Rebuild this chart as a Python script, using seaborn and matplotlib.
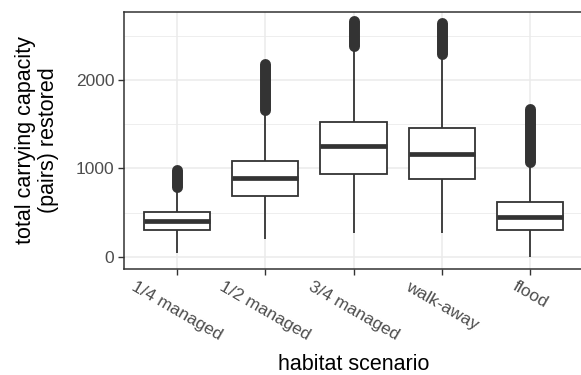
import numpy as np
import pandas as pd
import matplotlib
matplotlib.use("Agg")
import matplotlib.pyplot as plt
import seaborn as sns

# ---- data ----
scenarios = ["1/4 managed", "1/2 managed", "3/4 managed", "walk-away", "flood"]
whisker_low = [45, 200, 275, 275, 0]
q1 = [305, 686, 938, 877, 305]
median = [407, 889, 1254, 1167, 452]
q3 = [505, 1088, 1525, 1461, 621]
whisker_high = [770, 1640, 2370, 2285, 1050]
outlier_low = [790, 1655, 2384, 2299, 1068]
outlier_high = [983, 2186, 2661, 2644, 1672]
y_ticks = [0, 1000, 2000]

# build long-form table from the five-number summaries
rows = []
for s, lo, a, m, b, hi in zip(scenarios, whisker_low, q1, median, q3, whisker_high):
    for v in (lo, a, a, m, b, b, hi):
        rows.append({"scenario": s, "value": v})
df = pd.DataFrame(rows)

sns.set_theme(style="white")
plt.rcParams["font.family"] = ["Liberation Sans", "DejaVu Sans"]

DARK = "#333333"
GRID = "#EBEBEB"

fig = plt.figure(figsize=(5.81, 3.75), dpi=100)
ax = fig.add_axes([124 / 581, 1 - 269 / 375, (583 - 124) / 581, (269 - 12) / 375])
ax.set_facecolor("white")

# grid (theme_bw style)
for y in [500, 1500, 2500]:
    ax.axhline(y, color=GRID, lw=0.6, zorder=0)
for y in y_ticks:
    ax.axhline(y, color=GRID, lw=1.1, zorder=0)
for i in range(len(scenarios)):
    ax.axvline(i, color=GRID, lw=1.1, zorder=0)

sns.boxplot(data=df, x="scenario", y="value", order=scenarios, ax=ax,
            color="white", linecolor=DARK, linewidth=1.3, width=0.75,
            whis=(0, 100), showfliers=False, showcaps=False,
            medianprops={"linewidth": 3.4, "color": DARK, "zorder": 5},
            boxprops={"zorder": 3}, whiskerprops={"zorder": 2})

# outliers: dense column of points from lowest to highest outlier
for i, (lo, hi) in enumerate(zip(outlier_low, outlier_high)):
    ax.plot([i, i], [lo, hi], color=DARK, lw=7.9, solid_capstyle="round", zorder=4)

ax.set_xlim(-0.6, 4.6)
ax.set_ylim(-136, 2768)
ax.set_yticks(y_ticks)
ax.set_yticklabels([str(t) for t in y_ticks])

for side in ["top", "left", "bottom", "right"]:
    ax.spines[side].set_visible(True)
    ax.spines[side].set_color(DARK)
    ax.spines[side].set_linewidth(1.1)

ax.tick_params(axis="both", which="major", length=4, width=1.0, color=DARK,
               labelcolor="#4D4D4D", labelsize=12.5, pad=3, direction="out",
               bottom=True, left=True)
for lab in ax.get_xticklabels():
    lab.set_rotation(-30)
    lab.set_ha("center")
    lab.set_va("top")

ax.set_xlabel("habitat scenario", fontsize=15.5, color="black")
ax.xaxis.label.set_va("baseline")
ax.xaxis.set_label_coords(0.5, (269 - 370) / 257)

ax.set_ylabel("total carrying capacity\n(pairs) restored", fontsize=15.5,
              color="black", multialignment="center", linespacing=1.15)
ax.yaxis.label.set_va("center")
ax.yaxis.set_label_coords((37 - 124) / 459, 0.5)

fig.savefig("out.png", dpi=100)
